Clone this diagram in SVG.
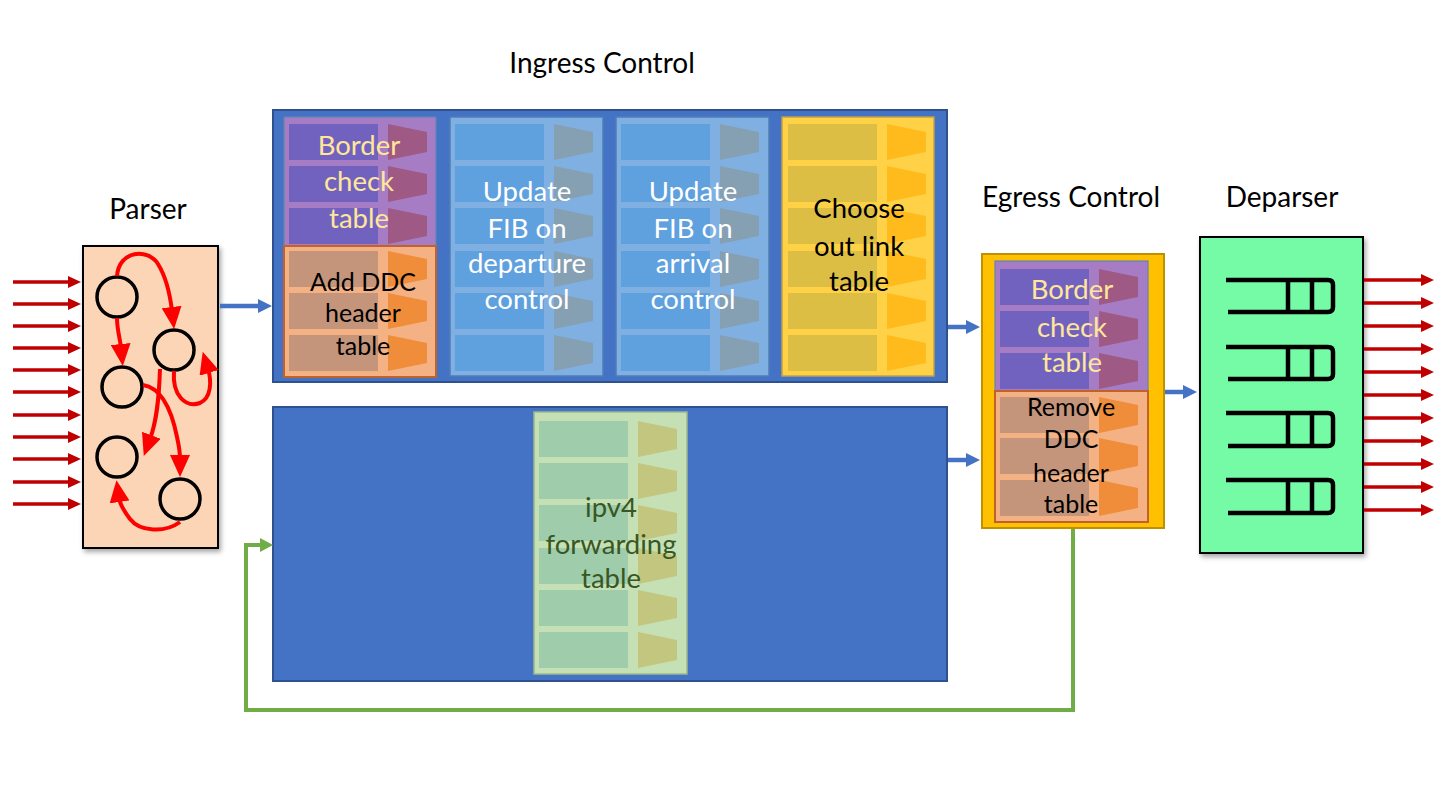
<svg xmlns="http://www.w3.org/2000/svg" width="1443" height="798" viewBox="0 0 1443 798">
<style>
text{font-family:"Lato","Open Sans","Liberation Sans",sans-serif;text-anchor:middle}
.hdr{font-size:28px;fill:#000}
.tl{font-size:27.5px}
.ts{font-size:25px}
.yel{fill:#FFE699}
.blk{fill:#000}
.wht{fill:#FFFFFF}
.grn{fill:#385723}
.inred{stroke:#C00000;stroke-width:3.5;fill:none}
.gred{stroke:#FF0000;stroke-width:4;fill:none}
.blue{stroke:#4472C4;stroke-width:4.5;fill:none}
.circ{fill:none;stroke:#000;stroke-width:3.5}
.q{fill:none;stroke:#000;stroke-width:4.5;stroke-linejoin:round}
</style>
<defs>
<marker id="mRedIn" markerUnits="userSpaceOnUse" markerWidth="13" markerHeight="12" refX="2" refY="6" orient="auto"><path d="M0,0 L13,6 L0,12 z" fill="#C00000"/></marker>
<marker id="mRed" markerUnits="userSpaceOnUse" markerWidth="22" markerHeight="20" refX="4" refY="10" orient="auto"><path d="M0,0 L22,10 L0,20 z" fill="#FF0000"/></marker>
<marker id="mBlue" markerUnits="userSpaceOnUse" markerWidth="14" markerHeight="14" refX="2" refY="7" orient="auto"><path d="M0,0 L14,7 L0,14 z" fill="#4472C4"/></marker>
<marker id="mGreen" markerUnits="userSpaceOnUse" markerWidth="13" markerHeight="14" refX="2" refY="7" orient="auto"><path d="M0,0 L13,7 L0,14 z" fill="#70AD47"/></marker>
<g id="row"><rect x="0" y="0" width="89" height="36"/><polygon points="99,0 138,8 138,28 99,36" fill="currentColor"/></g>
<filter id="sh" x="-10%" y="-10%" width="125%" height="125%"><feDropShadow dx="2" dy="3" stdDeviation="2.5" flood-color="#000" flood-opacity="0.35"/></filter>
</defs>

<!-- Titles -->
<text class="hdr" x="602" y="73">Ingress Control</text>
<text class="hdr" x="148" y="219">Parser</text>
<text class="hdr" x="1071" y="207">Egress Control</text>
<text class="hdr" x="1282" y="207">Deparser</text>

<!-- Parser -->
<g id="parser">
<rect x="83" y="246" width="135" height="302" fill="#FBD5B5" stroke="#000" stroke-width="2" filter="url(#sh)"/>
<circle class="circ" cx="117" cy="297" r="20"/>
<circle class="circ" cx="174" cy="350" r="20"/>
<circle class="circ" cx="122" cy="387" r="20"/>
<circle class="circ" cx="117" cy="457" r="20"/>
<circle class="circ" cx="180" cy="499" r="20"/>
<path class="gred" marker-end="url(#mRed)" d="M117,276 C119,250 148,248 158,264 C166,277 170,294 172,311"/>
<path class="gred" marker-end="url(#mRed)" d="M117,318 C117,330 120,338 121,348"/>
<path class="gred" marker-end="url(#mRed)" d="M160,369 C159,398 157,420 150,439"/>
<path class="gred" marker-end="url(#mRed)" d="M143,385 C162,388 172,412 177,437 C179,446 180,452 180,459"/>
<path class="gred" marker-end="url(#mRed)" d="M174,371 C172,396 186,408 200,403 C211,398 212,382 208,369"/>
<path class="gred" marker-end="url(#mRed)" d="M180,522 C165,533 140,532 130,519 C124,511 120,505 119,498"/>
</g>

<!-- Ingress Control -->
<g id="ingress">
<rect x="273" y="110" width="674" height="272" fill="#4472C4" stroke="#2F528F" stroke-width="2"/>
</g>

<g id="border-check-ingress">
<rect x="284" y="117" width="152" height="129" fill="#A67DC5" stroke="#5E86B0" stroke-width="1.2"/>
<use href="#row" x="289" y="124" fill="#7262C0" color="#9E5A85"/>
<use href="#row" x="289" y="166" fill="#7262C0" color="#9E5A85"/>
<use href="#row" x="289" y="208" fill="#7262C0" color="#9E5A85"/>
<text class="tl yel" x="359" y="155">Border</text>
<text class="tl yel" x="359" y="191">check</text>
<text class="tl yel" x="359" y="228">table</text>
</g>

<g id="add-ddc">
<rect x="284" y="246" width="152" height="131" fill="#F4B183" stroke="#C0622A" stroke-width="2"/>
<use href="#row" x="289" y="251" fill="#C4957A" color="#F08D3B"/>
<use href="#row" x="289" y="293" fill="#C4957A" color="#F08D3B"/>
<use href="#row" x="289" y="335" fill="#C4957A" color="#F08D3B"/>
<text class="ts blk" x="363" y="291">Add DDC</text>
<text class="ts blk" x="363" y="322">header</text>
<text class="ts blk" x="363" y="355">table</text>
</g>

<g id="fib-departure">
<rect x="450" y="117" width="153" height="259" fill="#80B0E1" stroke="#4F7DB6" stroke-width="1.5"/>
<use href="#row" x="455" y="124" fill="#5FA0DE" color="#86A0B3"/>
<use href="#row" x="455" y="166" fill="#5FA0DE" color="#86A0B3"/>
<use href="#row" x="455" y="208" fill="#5FA0DE" color="#86A0B3"/>
<use href="#row" x="455" y="251" fill="#5FA0DE" color="#86A0B3"/>
<use href="#row" x="455" y="293" fill="#5FA0DE" color="#86A0B3"/>
<use href="#row" x="455" y="335" fill="#5FA0DE" color="#86A0B3"/>
<text class="tl wht" x="527" y="201">Update</text>
<text class="tl wht" x="527" y="238">FIB on</text>
<text class="tl wht" x="527" y="273">departure</text>
<text class="tl wht" x="527" y="309">control</text>
</g>

<g id="fib-arrival">
<rect x="616" y="117" width="153" height="259" fill="#80B0E1" stroke="#4F7DB6" stroke-width="1.5"/>
<use href="#row" x="621" y="124" fill="#5FA0DE" color="#86A0B3"/>
<use href="#row" x="621" y="166" fill="#5FA0DE" color="#86A0B3"/>
<use href="#row" x="621" y="208" fill="#5FA0DE" color="#86A0B3"/>
<use href="#row" x="621" y="251" fill="#5FA0DE" color="#86A0B3"/>
<use href="#row" x="621" y="293" fill="#5FA0DE" color="#86A0B3"/>
<use href="#row" x="621" y="335" fill="#5FA0DE" color="#86A0B3"/>
<text class="tl wht" x="693" y="201">Update</text>
<text class="tl wht" x="693" y="238">FIB on</text>
<text class="tl wht" x="693" y="273">arrival</text>
<text class="tl wht" x="693" y="309">control</text>
</g>

<g id="choose-out-link">
<rect x="782" y="117" width="152" height="259" fill="#FFD147" stroke="#BFA04A" stroke-width="1.5"/>
<use href="#row" x="788" y="124" fill="#DDBE45" color="#FFBB1C"/>
<use href="#row" x="788" y="166" fill="#DDBE45" color="#FFBB1C"/>
<use href="#row" x="788" y="208" fill="#DDBE45" color="#FFBB1C"/>
<use href="#row" x="788" y="251" fill="#DDBE45" color="#FFBB1C"/>
<use href="#row" x="788" y="293" fill="#DDBE45" color="#FFBB1C"/>
<use href="#row" x="788" y="335" fill="#DDBE45" color="#FFBB1C"/>
<text class="tl blk" x="859" y="218">Choose</text>
<text class="tl blk" x="859" y="256">out link</text>
<text class="tl blk" x="859" y="291">table</text>
</g>

<!-- Lower ingress path -->
<g id="ingress-ipv4">
<rect x="273" y="407" width="674" height="274" fill="#4472C4" stroke="#2F528F" stroke-width="2"/>
</g>
<g id="ipv4-forwarding">
<rect x="534" y="412" width="153" height="262" fill="#C5E0B4" stroke="#9CB889" stroke-width="1.5"/>
<use href="#row" x="539" y="421" fill="#9FCDAC" color="#C3C67E"/>
<use href="#row" x="539" y="463" fill="#9FCDAC" color="#C3C67E"/>
<use href="#row" x="539" y="505" fill="#9FCDAC" color="#C3C67E"/>
<use href="#row" x="539" y="548" fill="#9FCDAC" color="#C3C67E"/>
<use href="#row" x="539" y="590" fill="#9FCDAC" color="#C3C67E"/>
<use href="#row" x="539" y="632" fill="#9FCDAC" color="#C3C67E"/>
<text class="tl grn" x="611" y="517">ipv4</text>
<text class="tl grn" x="611" y="554">forwarding</text>
<text class="tl grn" x="611" y="588">table</text>
</g>

<!-- Egress Control -->
<g id="egress">
<rect x="982" y="254" width="182" height="274" fill="#FFC000" stroke="#BF9000" stroke-width="2"/>
</g>
<g id="border-check-egress">
<rect x="995" y="261" width="153" height="130" fill="#A67DC5" stroke="#5E86B0" stroke-width="1.2"/>
<use href="#row" x="1000" y="269" fill="#7262C0" color="#9E5A85"/>
<use href="#row" x="1000" y="311" fill="#7262C0" color="#9E5A85"/>
<use href="#row" x="1000" y="353" fill="#7262C0" color="#9E5A85"/>
<text class="tl yel" x="1072" y="299">Border</text>
<text class="tl yel" x="1072" y="337">check</text>
<text class="tl yel" x="1072" y="372">table</text>
</g>
<g id="remove-ddc">
<rect x="995" y="391" width="153" height="131" fill="#F4B183" stroke="#C0622A" stroke-width="2"/>
<use href="#row" x="1000" y="397" fill="#C4957A" color="#F08D3B"/>
<use href="#row" x="1000" y="438" fill="#C4957A" color="#F08D3B"/>
<use href="#row" x="1000" y="480" fill="#C4957A" color="#F08D3B"/>
<text class="ts blk" x="1071" y="416">Remove</text>
<text class="ts blk" x="1071" y="448">DDC</text>
<text class="ts blk" x="1071" y="482">header</text>
<text class="ts blk" x="1071" y="513">table</text>
</g>

<!-- Deparser -->
<g id="deparser">
<rect x="1200" y="237" width="163" height="316" fill="#75FAA6" stroke="#000" stroke-width="2" filter="url(#sh)"/>
<path class="q" d="M1226,280 H1328 Q1333,280 1333,285 V307 Q1333,312 1328,312 H1228 M1288,280 V312 M1312,280 V312"/>
<path class="q" d="M1226,347 H1328 Q1333,347 1333,352 V374 Q1333,379 1328,379 H1228 M1288,347 V379 M1312,347 V379"/>
<path class="q" d="M1226,413 H1328 Q1333,413 1333,418 V441 Q1333,446 1328,446 H1228 M1288,413 V446 M1312,413 V446"/>
<path class="q" d="M1226,480 H1328 Q1333,480 1333,485 V508 Q1333,513 1328,513 H1228 M1288,480 V513 M1312,480 V513"/>
</g>

<!-- Connectors -->
<g id="connectors">
<g marker-end="url(#mRedIn)" class="inred">
<path d="M13,282 H70"/><path d="M13,304 H70"/><path d="M13,326 H70"/><path d="M13,348 H70"/>
<path d="M13,370 H70"/><path d="M13,392 H70"/><path d="M13,415 H70"/><path d="M13,437 H70"/>
<path d="M13,459 H70"/><path d="M13,482 H70"/><path d="M13,504 H70"/>
</g>
<g marker-end="url(#mRedIn)" class="inred">
<path d="M1364,280 H1423"/><path d="M1364,303 H1423"/><path d="M1364,326 H1423"/><path d="M1364,349 H1423"/>
<path d="M1364,372 H1423"/><path d="M1364,395 H1423"/><path d="M1364,418 H1423"/><path d="M1364,441 H1423"/>
<path d="M1364,464 H1423"/><path d="M1364,487 H1423"/><path d="M1364,510 H1423"/>
</g>
<path class="blue" marker-end="url(#mBlue)" d="M220,306 H260"/>
<path class="blue" marker-end="url(#mBlue)" d="M948,327 H968"/>
<path class="blue" marker-end="url(#mBlue)" d="M948,460 H968"/>
<path class="blue" marker-end="url(#mBlue)" d="M1165,392 H1185"/>
<path d="M1073,529 V710 H246 V545 H262" fill="none" stroke="#70AD47" stroke-width="4" marker-end="url(#mGreen)"/>
</g>
</svg>
